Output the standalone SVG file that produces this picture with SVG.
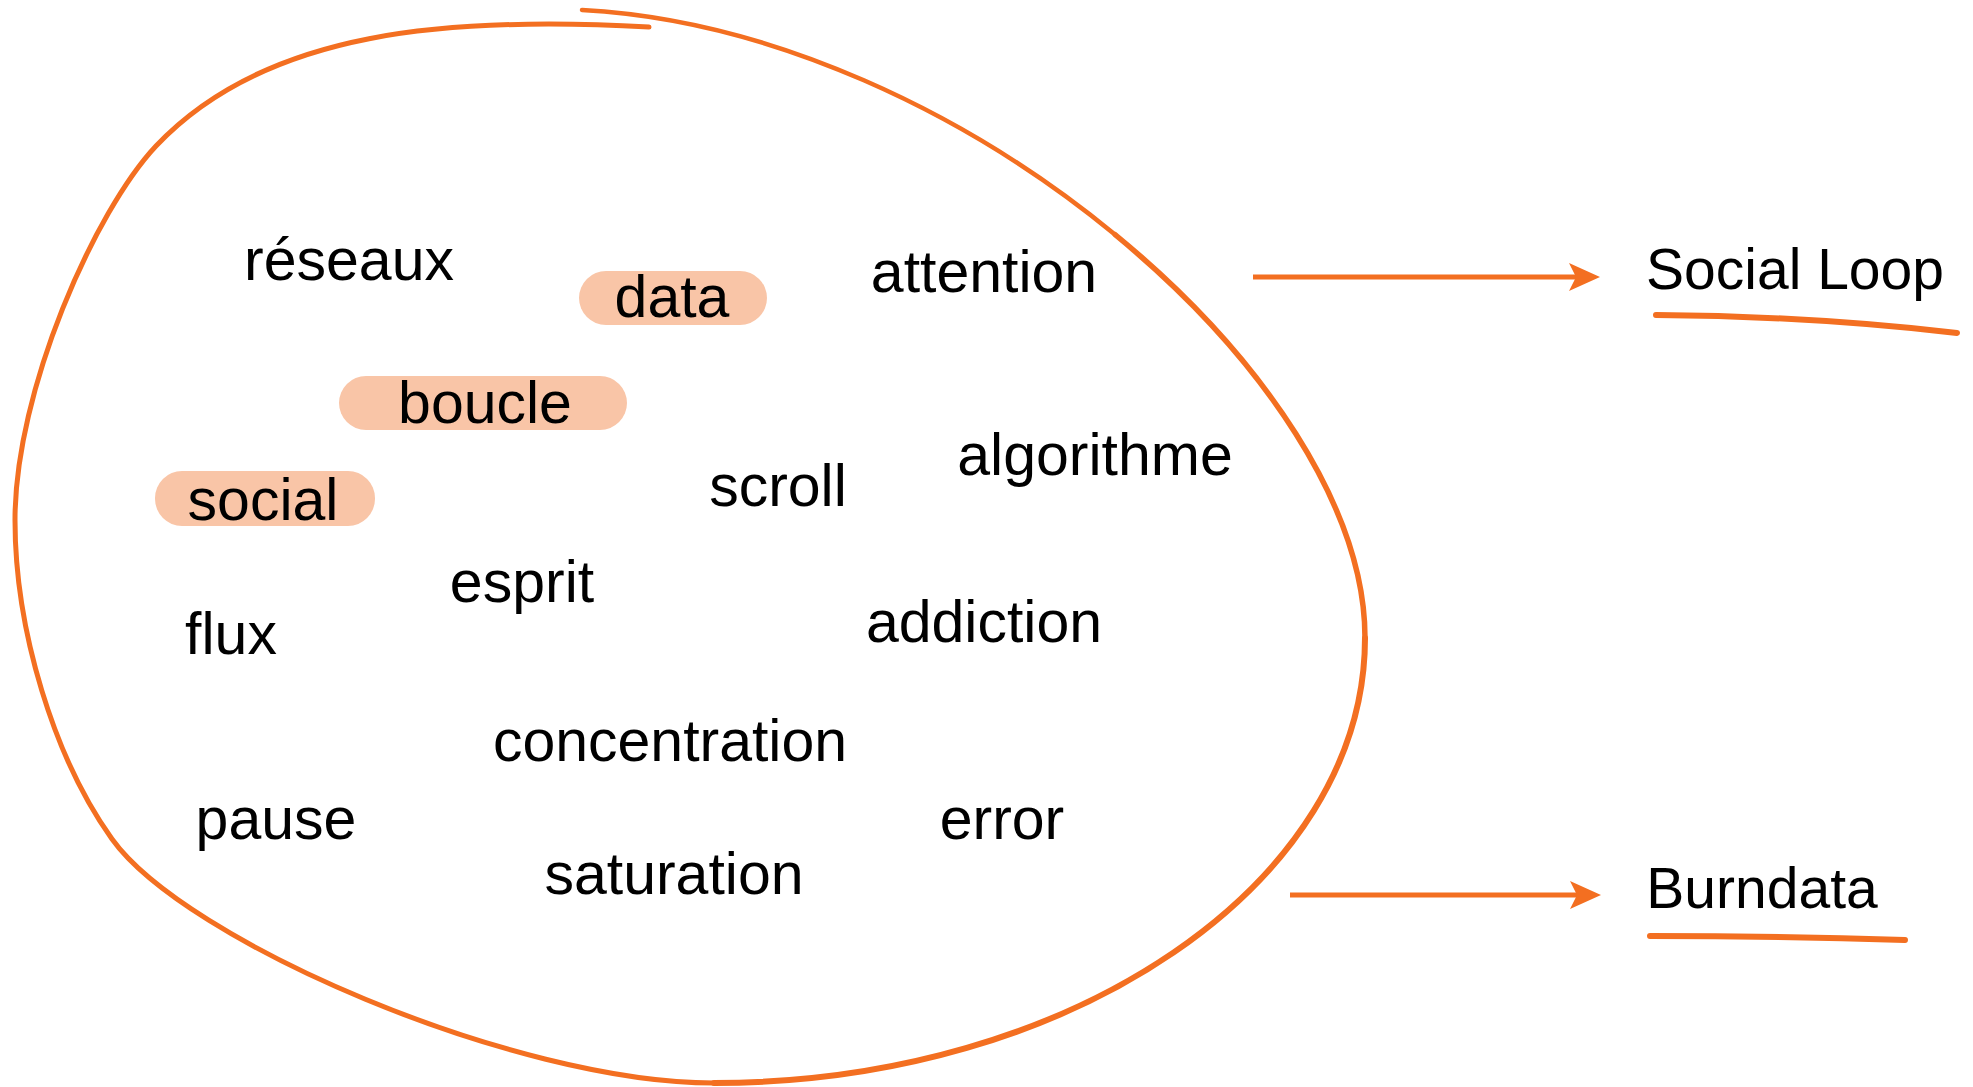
<svg xmlns="http://www.w3.org/2000/svg" width="1973" height="1087" viewBox="0 0 1973 1087">
<style>
.stroke{fill:none;stroke:#F36F21;stroke-linecap:round;stroke-linejoin:round}
.ul{stroke-width:6}
.conn{fill:none;stroke:#F36F21;stroke-width:5;marker-end:url(#arrow)}
.pill{fill:#F9C5A7}
.word{font-family:"Liberation Sans",Arial,sans-serif;font-size:59px;fill:#000;text-anchor:middle}
.title{font-family:"Liberation Sans",Arial,sans-serif;font-size:57px;fill:#000;text-anchor:middle}
</style>
<defs>
<marker id="arrow" markerUnits="userSpaceOnUse" viewBox="0 0 32 30" markerWidth="32" markerHeight="30" refX="16" refY="14" orient="auto">
<path d="M0,0 L31,14 L0,28 L7,14 Z" fill="#F36F21"/>
</marker>
</defs>
<rect width="1973" height="1087" fill="#fff"/>
<g id="loop">
<path class="stroke" stroke-width="5" d="M649,27 C450,16 266,29.5 156,146 C95,211 15,390 15,520 C15,630 54,758 112,839 C185,941 514,1083 714,1083"/>
<path class="stroke" stroke-width="6" d="M714,1083 C1072,1083 1365,883 1365,638"/>
<path class="stroke" stroke-width="5.5" d="M1365,638 C1365,509 1263.75,357 1115.25,234.75"/>
<path class="stroke" stroke-width="4.5" d="M1115.25,234.75 C966.75,112.5 771,20 582,10"/>
</g>
<g id="pills">
<rect id="pill-data" class="pill" x="579" y="271" width="188" height="54" rx="27"/>
<rect id="pill-boucle" class="pill" x="339" y="376" width="288" height="54" rx="27"/>
<rect id="pill-social" class="pill" x="155" y="471" width="220" height="55" rx="27"/>
</g>
<g id="words">
<text id="w-reseaux" class="word" x="349" y="280">réseaux</text>
<text id="w-data" class="word" x="672" y="317">data</text>
<text id="w-attention" class="word" x="984" y="292">attention</text>
<text id="w-boucle" class="word" x="485" y="423">boucle</text>
<text id="w-social" class="word" x="263" y="520">social</text>
<text id="w-scroll" class="word" x="778" y="506">scroll</text>
<text id="w-algorithme" class="word" x="1095" y="475">algorithme</text>
<text id="w-esprit" class="word" x="522" y="602">esprit</text>
<text id="w-flux" class="word" x="231" y="654">flux</text>
<text id="w-addiction" class="word" x="984" y="642">addiction</text>
<text id="w-concentration" class="word" x="670" y="761">concentration</text>
<text id="w-pause" class="word" x="276" y="839">pause</text>
<text id="w-error" class="word" x="1002" y="839">error</text>
<text id="w-saturation" class="word" x="674" y="894">saturation</text>
</g>
<g id="connectors">
<path class="conn" d="M1253,277 H1585"/>
<path class="conn" d="M1290,895 H1586"/>
</g>
<g id="social-loop">
<text class="title" x="1795" y="289">Social Loop</text>
<path class="stroke ul" d="M1656,315 Q1810,316 1957,333"/>
</g>
<g id="burndata">
<text class="title" x="1762" y="908">Burndata</text>
<path class="stroke ul" d="M1650,936 Q1780,936 1905,940"/>
</g>
</svg>
